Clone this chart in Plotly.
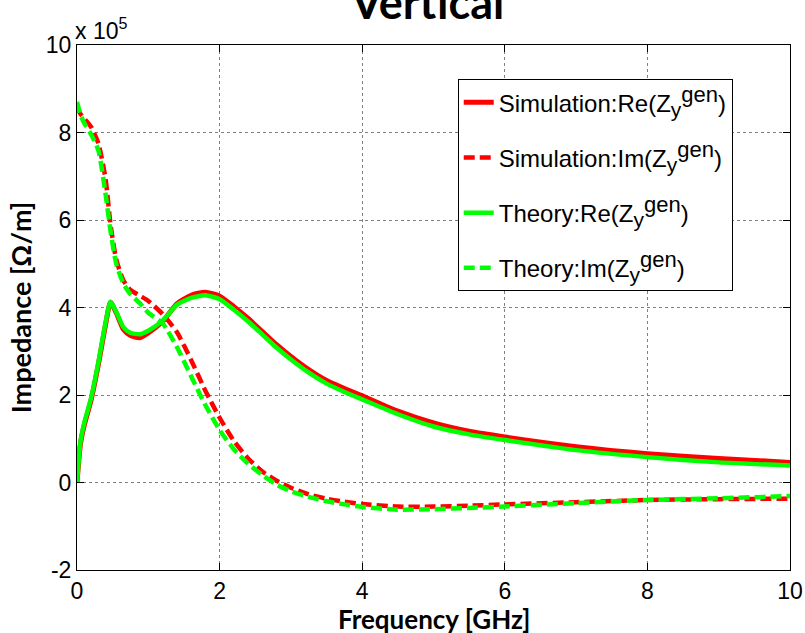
import plotly.graph_objects as go

# Frequency grid (GHz)
freq = [0, 0.05, 0.1, 0.2, 0.3, 0.4, 0.47, 0.55, 0.65, 0.75, 0.88, 1.0, 1.2, 1.4, 1.6, 1.8,
        2.0, 2.2, 2.4, 2.6, 2.8, 3.0, 3.25, 3.5, 3.75, 4.0, 4.5, 5.0, 5.5, 6.0, 7.0, 8.0, 9.0, 10.0]

# Values in units of 1e5 Ohm/m
sim_re = [0.0, 0.9, 1.3, 1.9, 2.7, 3.6, 4.12, 3.88, 3.5, 3.36, 3.31, 3.42, 3.68, 4.08, 4.28, 4.35,
          4.26, 4.02, 3.75, 3.45, 3.15, 2.88, 2.58, 2.33, 2.15, 1.98, 1.63, 1.36, 1.17, 1.04, 0.82, 0.66, 0.55, 0.46]
sim_im = [8.6, 8.42, 8.32, 8.12, 7.75, 6.95, 5.9, 5.1, 4.62, 4.4, 4.27, 4.15, 3.85, 3.44, 2.8, 2.1,
          1.48, 0.95, 0.55, 0.25, 0.04, -0.12, -0.27, -0.37, -0.44, -0.49, -0.55, -0.55, -0.53, -0.5, -0.45, -0.4, -0.38, -0.37]
th_re = [0.0, 0.95, 1.35, 1.95, 2.75, 3.65, 4.13, 3.9, 3.55, 3.42, 3.39, 3.47, 3.7, 4.06, 4.22, 4.28,
         4.19, 3.95, 3.68, 3.38, 3.08, 2.81, 2.51, 2.26, 2.07, 1.9, 1.56, 1.28, 1.1, 0.97, 0.74, 0.58, 0.46, 0.39]
th_im = [8.7, 8.4, 8.22, 7.95, 7.59, 6.6, 5.75, 5.0, 4.55, 4.3, 4.1, 3.88, 3.64, 3.1, 2.43, 1.77,
         1.2, 0.76, 0.43, 0.17, -0.05, -0.2, -0.33, -0.43, -0.5, -0.56, -0.62, -0.61, -0.58, -0.55, -0.47, -0.4, -0.36, -0.31]

x_ticks = [0, 2, 4, 6, 8, 10]
y_ticks = [-2, 0, 2, 4, 6, 8, 10]

ZGEN = "Z<sub><span style='font-size:21px'>y</span></sub><sup><span style='font-size:22px'>gen</span></sup>"
names = ["Simulation:Re(" + ZGEN + ")",
         "Simulation:Im(" + ZGEN + ")",
         "Theory:Re(" + ZGEN + ")",
         "Theory:Im(" + ZGEN + ")"]

RED = "#ff0000"
GREEN = "#00ff00"

fig = go.Figure()
series = [(sim_re, RED, "solid", 5), (sim_im, RED, "11px,5px", 4.5),
          (th_re, GREEN, "solid", 4.5), (th_im, GREEN, "11px,5px", 4.5)]
for i, (vals, col, dash, w) in enumerate(series):
    fig.add_trace(go.Scatter(
        x=freq, y=vals, mode="lines", name=names[i], legendgroup=str(i),
        line=dict(color=col, width=w, dash=dash, shape="spline", smoothing=0.6),
    ))

axis_common = dict(
    showline=True, linecolor="black", linewidth=1, mirror="ticks",
    ticks="inside", ticklen=7, tickcolor="black", tickwidth=1,
    showgrid=True, gridcolor="#808080", griddash="dot", gridwidth=1,
    zeroline=False, automargin=False,
    tickfont=dict(family="Liberation Sans, Arial", size=23, color="black"),
)

fig.update_xaxes(range=[0, 10], tickvals=x_ticks, ticktext=[str(t) for t in x_ticks],
                 **axis_common)
fig.update_yaxes(range=[-2, 10], tickvals=y_ticks, ticktext=[str(t) for t in y_ticks],
                 title=dict(text="<b>Impedance [Ω/m]</b>", standoff=6,
                            font=dict(family="Lato", size=27, color="black")),
                 **axis_common)

# x-axis title
fig.add_annotation(text="<b>Frequency [GHz]</b>", xref="paper", yref="paper",
                   x=0.5, y=0.0, yanchor="top", yshift=-31, showarrow=False,
                   font=dict(family="Lato", size=26, color="black"))
# chart title
fig.add_annotation(text="<b>Vertical</b>", xref="paper", yref="paper",
                   x=0.491, y=1.0, yanchor="bottom", yshift=14, showarrow=False,
                   font=dict(family="Lato", size=45, color="black"))
# exponent label
fig.add_annotation(text="x 10<sup>5</sup>", xref="paper", yref="paper",
                   x=0.0, y=1.0, xanchor="left", yanchor="bottom", xshift=-4, yshift=-1,
                   showarrow=False,
                   font=dict(family="Liberation Sans, Arial", size=23, color="black"))

fig.update_layout(
    width=805, height=633,
    margin=dict(l=77, r=15, t=45, b=63),
    paper_bgcolor="white", plot_bgcolor="white",
    showlegend=True,
    legend=dict(x=0.534, y=0.935, xanchor="left", yanchor="top",
                bgcolor="white", bordercolor="black", borderwidth=1,
                tracegroupgap=21,
                font=dict(family="Liberation Sans, Arial", size=24, color="black")),
)

fig.write_html("out.html", config={"displayModeBar": False},
               post_script="document.body.style.margin='0';")
